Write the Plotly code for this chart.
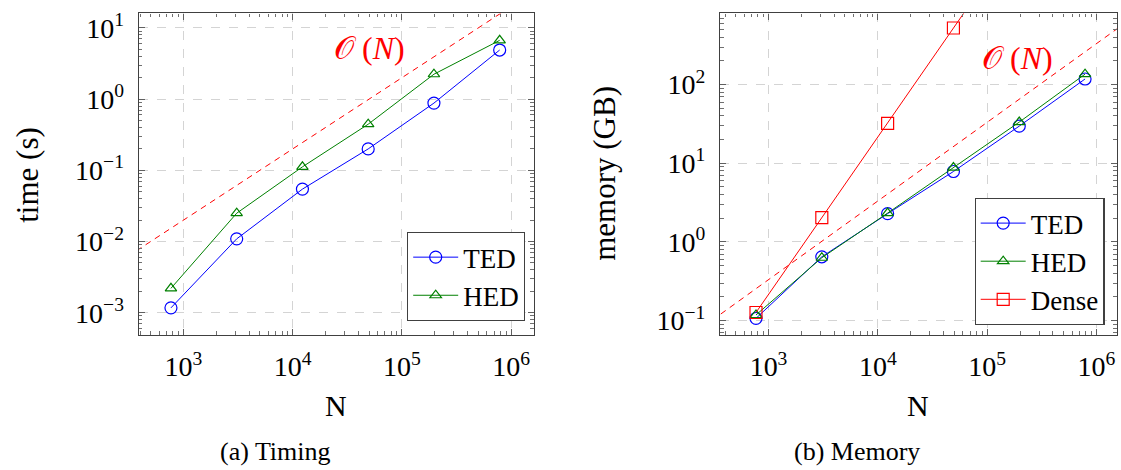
import plotly.graph_objects as go

# Problem sizes (number of unknowns)
N = [768, 3072, 12288, 49152, 196608, 786432]

# Wall-clock time in seconds
ted_time = [0.00117, 0.0109, 0.0545, 0.20, 0.88, 4.9]
hed_time = [0.0022, 0.025, 0.112, 0.445, 2.24, 6.7]

# Memory footprint in GB
ted_mem = [0.107, 0.648, 2.29, 7.87, 29.7, 118]
hed_mem = [0.118, 0.63, 2.33, 8.83, 33.4, 136]
dense_N = [768, 3072, 12288, 49152, 196608]
dense_mem = [0.127, 2.04, 32.1, 525, 8400]

# Linear-scaling reference lines: y = coef * N
ref_N = [10 ** 2.4, 10 ** 6.4]
time_coef = 2.0e-5
mem_coef = 3.32e-4

x_ticks = [1e3, 1e4, 1e5, 1e6]
x_text = ["10<sup>3</sup>", "10<sup>4</sup>", "10<sup>5</sup>", "10<sup>6</sup>"]
t_ticks = [1e-3, 1e-2, 1e-1, 1e0, 1e1]
t_text = ["10<sup>−3</sup>", "10<sup>−2</sup>", "10<sup>−1</sup>", "10<sup>0</sup>", "10<sup>1</sup>"]
m_ticks = [1e-1, 1e0, 1e1, 1e2]
m_text = ["10<sup>−1</sup>", "10<sup>0</sup>", "10<sup>1</sup>", "10<sup>2</sup>"]

FONT = "Liberation Serif"
BLUE, GREEN, RED = "#0000ff", "#008000", "#ff0000"


def minor_vals(lo, hi):
    return [m * 10 ** e for e in range(lo, hi) for m in range(2, 10)]


fig = go.Figure()

# ---- (a) Timing ----
fig.add_trace(go.Scatter(
    x=ref_N, y=[time_coef * n for n in ref_N], mode="lines",
    line=dict(color=RED, width=1, dash="6px,5px"), showlegend=False,
    xaxis="x", yaxis="y", hoverinfo="skip"))
fig.add_trace(go.Scatter(
    x=N, y=ted_time, mode="lines+markers", name="TED",
    line=dict(color=BLUE, width=1),
    marker=dict(symbol="circle-open", size=12, color=BLUE, line=dict(width=1.2)),
    xaxis="x", yaxis="y", legend="legend", legendgroup="a_ted"))
fig.add_trace(go.Scatter(
    x=N, y=hed_time, mode="lines+markers", name="HED",
    line=dict(color=GREEN, width=1),
    marker=dict(symbol="triangle-up-open", size=10, color=GREEN, line=dict(width=1.2)),
    xaxis="x", yaxis="y", legend="legend", legendgroup="a_hed"))

# ---- (b) Memory ----
fig.add_trace(go.Scatter(
    x=ref_N, y=[mem_coef * n for n in ref_N], mode="lines",
    line=dict(color=RED, width=1, dash="6px,5px"), showlegend=False,
    xaxis="x2", yaxis="y2", hoverinfo="skip"))
fig.add_trace(go.Scatter(
    x=N, y=ted_mem, mode="lines+markers", name="TED",
    line=dict(color=BLUE, width=1),
    marker=dict(symbol="circle-open", size=12, color=BLUE, line=dict(width=1.2)),
    xaxis="x2", yaxis="y2", legend="legend2", legendgroup="b_ted"))
fig.add_trace(go.Scatter(
    x=N, y=hed_mem, mode="lines+markers", name="HED",
    line=dict(color=GREEN, width=1),
    marker=dict(symbol="triangle-up-open", size=10, color=GREEN, line=dict(width=1.2)),
    xaxis="x2", yaxis="y2", legend="legend2", legendgroup="b_hed"))
fig.add_trace(go.Scatter(
    x=dense_N, y=dense_mem, mode="lines+markers", name="Dense",
    line=dict(color=RED, width=1),
    marker=dict(symbol="square-open", size=12, color=RED, line=dict(width=1.2)),
    xaxis="x2", yaxis="y2", legend="legend2", legendgroup="b_dense"))


def log_axis(rng, domain, tickvals, ticktext, minor, anchor, standoff):
    return dict(
        type="log", range=rng, domain=domain, anchor=anchor,
        showline=True, linecolor="#404040", linewidth=1.3, mirror="ticks",
        ticks="inside", ticklen=6, tickwidth=1, tickcolor="#606060",
        tickmode="array", tickvals=tickvals, ticktext=ticktext,
        tickfont=dict(family=FONT, size=28, color="black"),
        ticklabelstandoff=standoff,
        showgrid=True, gridcolor="#d4d4d4", gridwidth=1, griddash="dash",
        zeroline=False,
        minor=dict(tickmode="array", tickvals=minor, ticks="inside",
                   ticklen=3.5, tickwidth=1, tickcolor="#707070", showgrid=False),
    )


YDOM = [1 - 335 / 470, 1 - 9.5 / 470]

legend_style = dict(
    xanchor="right", yanchor="bottom",
    bgcolor="white", bordercolor="#404040", borderwidth=1.2,
    font=dict(family=FONT, size=27, color="black"),
    itemwidth=45, tracegroupgap=0)

fig.update_layout(
    width=1121, height=470,
    margin=dict(l=0, r=0, t=0, b=0),
    paper_bgcolor="white", plot_bgcolor="white",
    font=dict(family=FONT, color="black"),
    xaxis=log_axis([2.59, 6.21], [138.7 / 1121, 534 / 1121], x_ticks, x_text,
                   minor_vals(2, 7), "y", 7),
    yaxis=log_axis([-3.309, 1.205], YDOM, t_ticks, t_text,
                   minor_vals(-4, 2), "x", 8),
    xaxis2=log_axis([2.556, 6.188], [720 / 1121, 1117 / 1121], x_ticks, x_text,
                    minor_vals(2, 7), "y2", 7),
    yaxis2=log_axis([-1.179, 2.906], YDOM, m_ticks, m_text,
                    minor_vals(-2, 3), "x2", 8),
    legend=dict(x=525 / 1121, y=1 - 321 / 470, **legend_style),
    legend2=dict(x=1104.5 / 1121, y=1 - 325 / 470, **legend_style),
)

annotations = [
    # axis titles
    dict(text="N", x=336 / 1121, y=1 - 407 / 470, size=30),
    dict(text="N", x=918 / 1121, y=1 - 407 / 470, size=30),
    dict(text="time (s)", x=28 / 1121, y=1 - 173 / 470, textangle=-90),
    dict(text="memory (GB)", x=605 / 1121, y=1 - 172 / 470, textangle=-90),
    # subfigure captions
    dict(text="(a) Timing", x=275 / 1121, y=1 - 453 / 470, size=26),
    dict(text="(b) Memory", x=857 / 1121, y=1 - 453 / 470, size=26),
    # scaling labels
    dict(text="𝒪 (<i>N</i>)", x=369 / 1121, y=1 - 45 / 470, color=RED, size=32),
    dict(text="𝒪 (<i>N</i>)", x=1017 / 1121, y=1 - 55 / 470, color=RED, size=32),
]
for a in annotations:
    fig.add_annotation(
        text=a["text"], x=a["x"], y=a["y"], xref="paper", yref="paper",
        xanchor="center", yanchor="middle", showarrow=False,
        textangle=a.get("textangle", 0),
        font=dict(family=FONT, size=a.get("size", 31), color=a.get("color", "black")))

fig.write_html("out.html")
